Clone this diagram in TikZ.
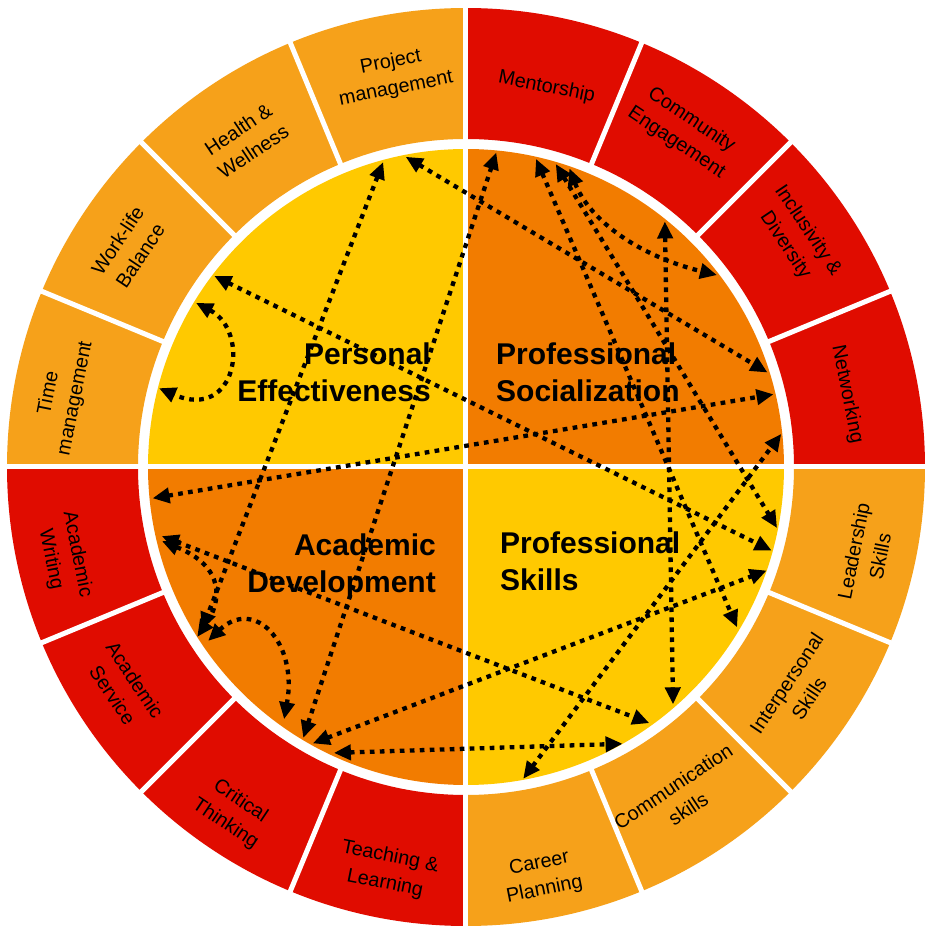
\documentclass[tikz,border=0pt]{standalone}
\usepackage{fontspec}
\setmainfont{Liberation Sans}
\usetikzlibrary{arrows.meta}

% colours of the wheel
\definecolor{r255g201b0}{RGB}{255,201,0}%
\definecolor{r242g124b0}{RGB}{242,124,0}%
\definecolor{r224g12b0}{RGB}{224,12,0}%
\definecolor{r246g161b26}{RGB}{246,161,26}%

\begin{document}
\begin{tikzpicture}[x=1pt,y=1pt,
    link/.style={line width=4.3pt,dash pattern=on 4.7pt off 5.3pt,
      {Triangle[length=17pt,width=15pt]}-{Triangle[length=17pt,width=15pt]}},
    ringlabel/.style={align=center,inner sep=0pt,font=\fontsize{19.8}{27}\selectfont},
    areatitle/.style={inner sep=0pt,font=\fontsize{30}{36.5}\selectfont\bfseries}]

% % Bounding box of the figure
\fill[white] (-466,-459) rectangle (461,467);
\useasboundingbox (-466,-459) rectangle (461,467);

% Drawing inner quadrants
\fill[r242g124b0] (0,0) -- (0:318) arc[start angle=0,end angle=90,radius=318] -- cycle;
\fill[r255g201b0] (0,0) -- (90:318) arc[start angle=90,end angle=180,radius=318] -- cycle;
\fill[r242g124b0] (0,0) -- (180:318) arc[start angle=180,end angle=270,radius=318] -- cycle;
\fill[r255g201b0] (0,0) -- (270:318) arc[start angle=270,end angle=360,radius=318] -- cycle;

% Drawing outer ring quadrants
\fill[r224g12b0] (0:328) arc[start angle=0,end angle=90,radius=328] -- (90:459) arc[start angle=90,end angle=0,radius=459] -- cycle;
\fill[r246g161b26] (90:328) arc[start angle=90,end angle=180,radius=328] -- (180:459) arc[start angle=180,end angle=90,radius=459] -- cycle;
\fill[r224g12b0] (180:328) arc[start angle=180,end angle=270,radius=328] -- (270:459) arc[start angle=270,end angle=180,radius=459] -- cycle;
\fill[r246g161b26] (270:328) arc[start angle=270,end angle=360,radius=328] -- (360:459) arc[start angle=360,end angle=270,radius=459] -- cycle;

% Drawing white separators
\draw[white,line width=5pt] (-470,0) -- (470,0);
\draw[white,line width=5pt] (0,-470) -- (0,470);
\draw[white,line width=5pt] (22.5:322) -- (22.5:465);
\draw[white,line width=5pt] (45:322) -- (45:465);
\draw[white,line width=5pt] (67.5:322) -- (67.5:465);
\draw[white,line width=5pt] (112.5:322) -- (112.5:465);
\draw[white,line width=5pt] (135:322) -- (135:465);
\draw[white,line width=5pt] (157.5:322) -- (157.5:465);
\draw[white,line width=5pt] (202.5:322) -- (202.5:465);
\draw[white,line width=5pt] (225:322) -- (225:465);
\draw[white,line width=5pt] (247.5:322) -- (247.5:465);
\draw[white,line width=5pt] (292.5:322) -- (292.5:465);
\draw[white,line width=5pt] (315:322) -- (315:465);
\draw[white,line width=5pt] (337.5:322) -- (337.5:465);

% Marking arrow ends on the inner circle
\coordinate (proj1) at (105.2:316);
\coordinate (proj2) at (101.0:316);
\coordinate (worklife1) at (142.8:316);
\coordinate (worklife2) at (148.7:316);
\coordinate (time1) at (165.6:317);
\coordinate (writing1) at (185.7:315);
\coordinate (writing2) at (192.8:312);
\coordinate (writing3) at (193.7:313);
\coordinate (service1) at (211.6:310);
\coordinate (service2) at (214.0:311);
\coordinate (service3) at (212.3:318);
\coordinate (critical1) at (234.2:311);
\coordinate (critical2) at (239.0:316);
\coordinate (critical3) at (241.0:316);
\coordinate (critical4) at (245.2:315);
\coordinate (career1) at (-79.6:317);
\coordinate (comm1) at (-54.4:315);
\coordinate (comm2) at (-60.5:318);
\coordinate (comm3) at (-48.9:315);
\coordinate (inter1) at (-30.6:315);
\coordinate (lead1) at (-15.3:317);
\coordinate (lead2) at (-19.0:318);
\coordinate (lead3) at (-11.1:317);
\coordinate (net1) at (17.4:316);
\coordinate (net2) at (13.3:316);
\coordinate (net3) at (6.0:317);
\coordinate (incl1) at (37.4:316);
\coordinate (community1) at (51.0:316);
\coordinate (mentor1) at (84.5:316);
\coordinate (mentor2) at (77.2:316);
\coordinate (mentor3) at (73.5:316);
\coordinate (mentor4) at (70.9:316);

% Drawing dotted links
\draw[link] (proj1) -- (service1);
\draw[link] (proj2) -- (net1);
\draw[link] (worklife1) -- (lead1);
\draw[link] (worklife2) .. controls +(55,-29) and +(78,-34) .. (time1);
\draw[link] (writing1) -- (net2);
\draw[link] (writing2) -- (comm1);
\draw[link] (writing3) .. controls +(64,-26) and +(24,35) .. (service3);
\draw[link] (service2) .. controls +(46,44) and +(14,77) .. (critical1);
\draw[link] (critical2) -- (mentor1);
\draw[link] (critical3) -- (lead2);
\draw[link] (critical4) -- (comm2);
\draw[link] (career1) -- (net3);
\draw[link] (community1) -- (comm3);
\draw[link] (mentor2) -- (inter1);
\draw[link] (mentor3) -- (lead3);
\draw[link] (mentor4) .. controls +(20,-52) and +(-78,19) .. (incl1);

% Marking quadrant titles
\node[areatitle,align=right,anchor=north east] (personal) at (-35,124) {Personal\\Effectiveness};
\node[areatitle,align=left,anchor=north west] (socialization) at (30,124) {Professional\\Socialization};
\node[areatitle,align=right,anchor=north east] (academic) at (-30,-67) {Academic\\Development};
\node[areatitle,align=left,anchor=north west] (skills) at (34,-65) {Professional\\Skills};

% Marking ring labels
\node[ringlabel,rotate=11.25] (proj) at (100.5:398) {Project\\management};
\node[ringlabel,rotate=33.75] (health) at (124:394) {Health \&\\Wellness};
\node[ringlabel,rotate=56.25] (worklife) at (147:402) {Work-life\\Balance};
\node[ringlabel,rotate=78.75] (time) at (170:410) {Time\\management};
\node[ringlabel,rotate=-78.75] (writing) at (192.6:412) {Academic\\Writing};
\node[ringlabel,rotate=-56.25] (service) at (212.8:407) {Academic\\Service};
\node[ringlabel,rotate=-33.75] (critical) at (236:417) {Critical\\Thinking};
\node[ringlabel,rotate=-11.25] (teaching) at (259:411) {Teaching \&\\Learning};
\node[ringlabel,rotate=11.25] (career) at (-79.5:417) {Career\\Planning};
\node[ringlabel,rotate=33.75] (comm) at (-57:394) {Communication\\skills};
\node[ringlabel,rotate=56.25] (inter) at (-34:400) {Interpersonal\\Skills};
\node[ringlabel,rotate=78.75] (lead) at (-12.2:410) {Leadership\\Skills};
\node[ringlabel,rotate=-78.75] (net) at (10.8:388) {Networking};
\node[ringlabel,rotate=-56.25] (incl) at (34.7:402) {Inclusivity \&\\Diversity};
\node[ringlabel,rotate=-33.75] (community) at (57:400) {Community\\Engagement};
\node[ringlabel,rotate=-11.25] (mentor) at (78:388) {Mentorship};
\end{tikzpicture}
\end{document}
